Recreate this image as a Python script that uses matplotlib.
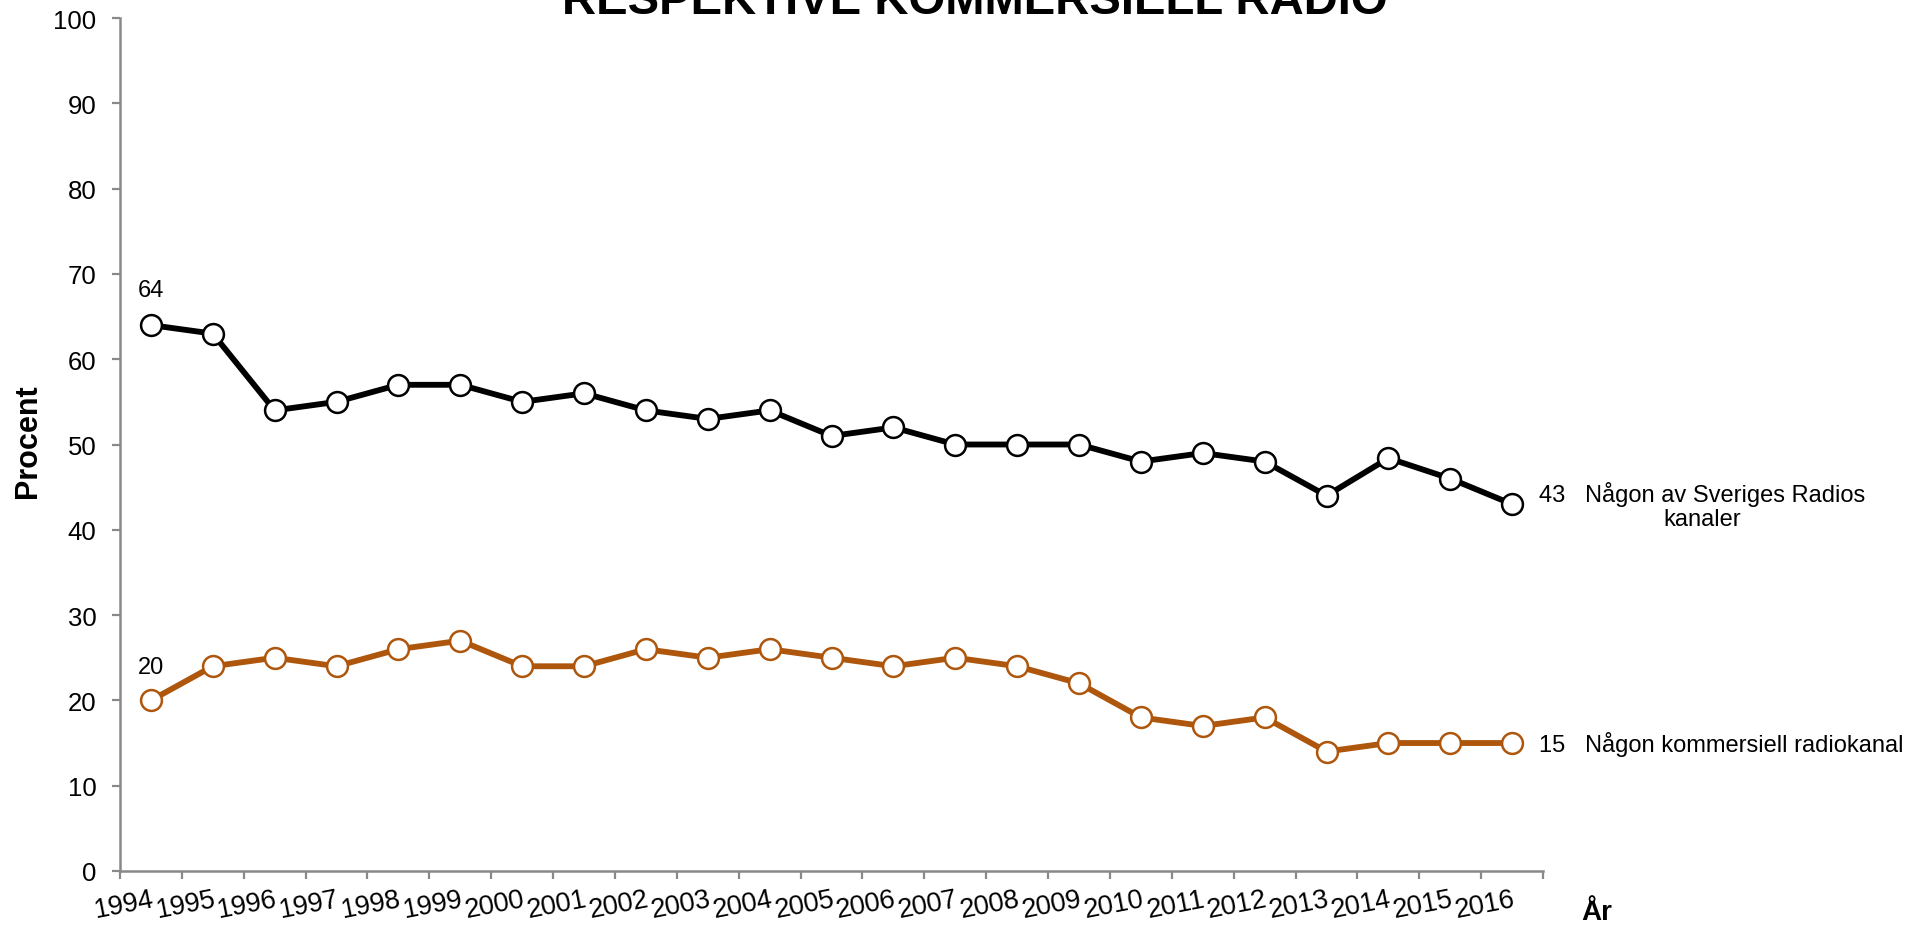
import matplotlib.pyplot as plt
import numpy as np

plt.rcParams['font.family'] = ['Liberation Sans', 'DejaVu Sans']

# Survey years and shares (percent)
years = [str(y) for y in range(1994, 2017)]
sveriges_radio = [64, 63, 54, 55, 57, 57, 55, 56, 54, 53, 54, 51, 52, 50, 50, 50,
                  48, 49, 48, 44, 48.4, 46, 43]
kommersiell = [20, 24, 25, 24, 26, 27, 24, 24, 26, 25, 26, 25, 24, 25, 24, 22,
               18, 17, 18, 14, 15, 15, 15]

sr_label = "Någon av Sveriges Radios\nkanaler"
kom_label = "Någon kommersiell radiokanal"

orange = '#AE560C'
axis_grey = '#898989'

fig = plt.figure(figsize=(19.26, 9.29), dpi=100)
ax = fig.add_axes([0.0623, 0.0614, 0.7389, 0.9181])

x = np.arange(len(years))

ax.plot(x, sveriges_radio, color='black', lw=4.2, marker='o', ms=15,
        mfc='white', mec='black', mew=1.8, zorder=3)
ax.plot(x, kommersiell, color=orange, lw=4.2, marker='o', ms=15,
        mfc='white', mec=orange, mew=1.8, zorder=3)

# value labels on first point
ax.annotate(str(sveriges_radio[0]), (x[0], sveriges_radio[0]), xytext=(0, 25),
            textcoords='offset points', ha='center', va='center', fontsize=17)
ax.annotate(str(kommersiell[0]), (x[0], kommersiell[0]), xytext=(0, 24),
            textcoords='offset points', ha='center', va='center', fontsize=17)

# series labels at the right end
ax.annotate(f"{sveriges_radio[-1]}   " + sr_label, (x[-1], sveriges_radio[-1]),
            xytext=(137, -1), textcoords='offset points', ha='center',
            va='center', multialignment='center', linespacing=1.15,
            fontsize=17, annotation_clip=False)
ax.annotate(f"{kommersiell[-1]}   " + kom_label, (x[-1], kommersiell[-1]),
            xytext=(19, -0.5), textcoords='offset points', ha='left',
            va='center', fontsize=17, annotation_clip=False)

ax.set_xlim(-0.5, len(years) - 0.5)
ax.set_ylim(0, 100)
ax.set_yticks(range(0, 101, 10))

# category ticks between years, labels under each year
ax.set_xticks(x)
ax.set_xticklabels(years, rotation=11, ha='right', va='top',
                   rotation_mode='anchor', fontsize=19.5)
ax.set_xticks(np.arange(-0.5, len(years)), minor=True)
ax.tick_params(axis='x', which='major', length=0, pad=11)
ax.tick_params(axis='x', which='minor', length=6, width=1.6, color=axis_grey)
ax.tick_params(axis='y', length=6, width=1.6, color=axis_grey, pad=11,
               labelsize=18.5)

for side in ['top', 'right']:
    ax.spines[side].set_visible(False)
for side in ['left', 'bottom']:
    ax.spines[side].set_color(axis_grey)
    ax.spines[side].set_linewidth(1.8)

fig.text(0.0145, 0.525, 'Procent', rotation=90, ha='center', va='center',
         fontsize=22, fontweight='bold')
fig.text(0.829, 0.003, 'År', ha='center', va='bottom',
         fontsize=20, fontweight='bold')

fig.text(0.506, 1 - 14 / 929, 'RESPEKTIVE KOMMERSIELL RADIO', ha='center',
         va='baseline', fontsize=34, fontweight='bold')

fig.savefig('out.png', dpi=100)
